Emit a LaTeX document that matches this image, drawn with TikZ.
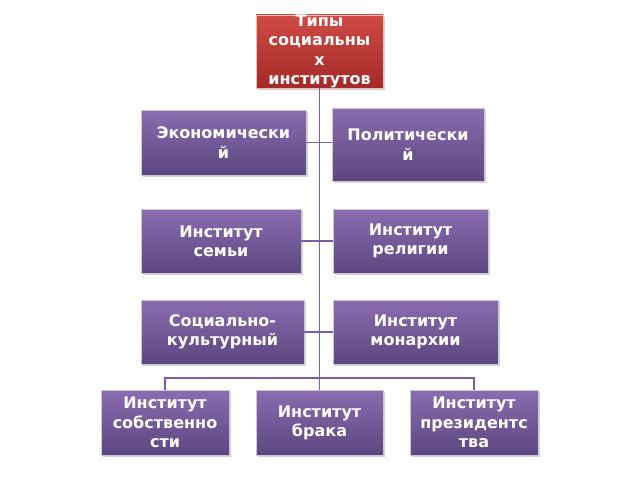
\documentclass[tikz,border=0pt]{standalone}
\usepackage{fontspec}
\setmainfont{DejaVu Sans}
\usetikzlibrary{shadows}
\definecolor{boxtop}{HTML}{8A6DB0}
\definecolor{boxbot}{HTML}{5C4680}
\definecolor{redtop}{HTML}{CF4A45}
\definecolor{redbot}{HTML}{A52A28}
\definecolor{linecol}{HTML}{7B5EA7}
\tikzset{
  typebox/.style={draw=white!70!boxbot,line width=0.4pt,top color=boxtop,bottom color=boxbot,
    text=white,font=\bfseries\fontsize{12pt}{14.5pt}\selectfont,align=center,inner sep=0pt,
    drop shadow={opacity=0.35,shadow xshift=1.2pt,shadow yshift=-1.2pt}},
  headbox/.style={typebox,top color=redtop,bottom color=redbot,draw=white!70!redbot},
  link/.style={draw=linecol,line width=1.2pt}
}
\begin{document}
\begin{tikzpicture}[x=0.75pt,y=-0.75pt]
  \useasboundingbox (0,0) rectangle (640,480);
  \node[headbox,minimum width=95.25pt,minimum height=48.75pt] (top) at (319.5,51.5)
    {Типы\\социальны\\х\\институтов};
  \node[typebox,minimum width=123.75pt,minimum height=48.75pt] (eco) at (223.5,142.5) {Экономически\\й};
  \node[typebox,minimum width=114pt,minimum height=54.75pt] (pol) at (408,144.5) {Политически\\й};
  \node[typebox,minimum width=120pt,minimum height=48pt] (fam) at (221,241) {Институт\\семьи};
  \node[typebox,minimum width=116.25pt,minimum height=48pt] (rel) at (410.5,241) {Институт\\религии};
  \node[typebox,minimum width=122.25pt,minimum height=48pt] (soc) at (222.5,332) {Социально-\\культурный};
  \node[typebox,minimum width=123.75pt,minimum height=48pt] (mon) at (415.5,332) {Институт\\монархии};
  \node[typebox,minimum width=96pt,minimum height=48.75pt] (own) at (165,422.5) {Институт\\собственно\\сти};
  \node[typebox,minimum width=95.25pt,minimum height=48.75pt] (mar) at (319.5,422.5) {Институт\\брака};
  \node[typebox,minimum width=96pt,minimum height=48.75pt] (pres) at (474,422.5) {Институт\\президентс\\тва};
  \coordinate (bus) at (319.5,378);
  % connectors
  \begin{scope}[on background layer/.style={}]
  \path[link] (top.south) -- (bus);
  \path[link] (eco.east) -- (eco.east -| top.south) -- (pol.west |- eco.east);
  \path[link] (fam.east) -- (rel.west);
  \path[link] (soc.east) -- (mon.west);
  \path[link] (own.north) |- (bus) -| (pres.north);
  \path[link] (bus) -- (mar.north);
  \end{scope}
\end{tikzpicture}
\end{document}
